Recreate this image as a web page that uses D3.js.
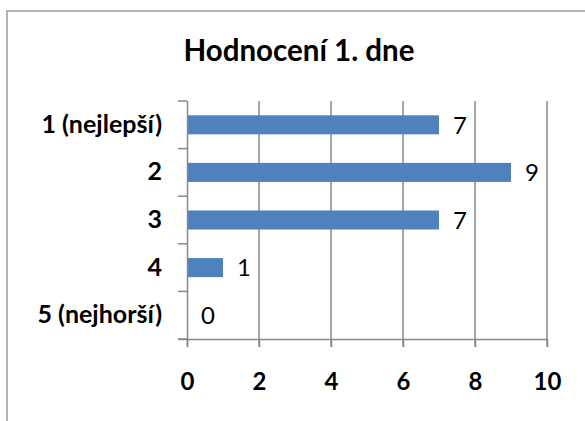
<!DOCTYPE html>
<html>
<head>
<meta charset="utf-8">
<script src="https://cdn.jsdelivr.net/npm/d3@7"></script>
<style>
  body { margin: 0; background: #fff; }
  svg { display: block; font-family: Lato, "Open Sans", sans-serif; }
</style>
</head>
<body>
<div id="chart"></div>
<script>
// data
const categories = ["1 (nejlepší)", "2", "3", "4", "5 (nejhorší)"];
const counts = [7, 9, 7, 1, 0];
const xTicks = [0, 2, 4, 6, 8, 10];
const title = "Hodnocení 1. dne";

const w = 585, h = 421;
const plotL = 187, plotR = 547, plotT = 101, plotB = 339;
const gray = "#898989";

const svg = d3.select("#chart").append("svg")
    .attr("width", w)
    .attr("height", h);

// chart frame (runs off the right and bottom edge)
svg.append("rect")
    .attr("x", 7).attr("y", 11)
    .attr("width", 600).attr("height", 430)
    .attr("fill", "none")
    .attr("stroke", "#8c8c8c")
    .attr("stroke-width", 1.3);

svg.append("text")
    .attr("x", 299).attr("y", 61)
    .attr("text-anchor", "middle")
    .attr("font-weight", "bold")
    .attr("font-size", "29.5px")
    .text(title);

const x = d3.scaleLinear().domain([0, 10]).range([plotL, plotR]);
const y = d3.scaleBand().domain(categories).range([plotT, plotB])
    .paddingInner(0.6).paddingOuter(0.3);

// vertical gridlines
svg.append("g").selectAll("line")
    .data(xTicks.slice(1))
    .enter().append("line")
    .attr("x1", d => x(d)).attr("x2", d => x(d))
    .attr("y1", plotT).attr("y2", plotB + 8)
    .attr("stroke", gray).attr("stroke-width", 1.5);

// bars
svg.append("g").selectAll("rect")
    .data(counts)
    .enter().append("rect")
    .attr("x", x(0))
    .attr("y", (d, i) => y(categories[i]))
    .attr("width", d => x(d) - x(0))
    .attr("height", y.bandwidth())
    .attr("fill", "#4f81bd");

// value labels
svg.append("g").selectAll("text")
    .data(counts)
    .enter().append("text")
    .attr("x", d => x(d) + 14)
    .attr("y", (d, i) => y(categories[i]) + y.bandwidth() / 2)
    .attr("dy", "0.37em")
    .attr("font-size", "24px")
    .attr("fill", "#000")
    .text(d => d);

// x axis
const xAxis = svg.append("g")
    .attr("transform", "translate(0," + plotB + ")")
    .call(d3.axisBottom(x).tickValues(xTicks).tickSize(8).tickPadding(26));
xAxis.select(".domain").attr("d", "M" + (plotL - 9) + ",0.5H" + plotR)
    .attr("stroke", gray).attr("stroke-width", 1.5);
xAxis.selectAll(".tick line").attr("stroke", gray).attr("stroke-width", 1.5);
xAxis.selectAll("text")
    .attr("font-family", "Lato, sans-serif")
    .attr("font-size", "24px")
    .attr("font-weight", "bold")
    .attr("fill", "#000");

// y axis: line, ticks on category boundaries, labels on centres
const yAxis = svg.append("g")
    .attr("transform", "translate(" + plotL + ",0)")
    .call(d3.axisLeft(y).tickSize(0).tickPadding(25));
yAxis.select(".domain").attr("d", "M0.5," + plotT + "V" + (plotB + 8))
    .attr("stroke", gray).attr("stroke-width", 1.5);
yAxis.selectAll("text")
    .attr("font-family", "Lato, sans-serif")
    .attr("font-size", "25px")
    .attr("font-weight", "bold")
    .attr("fill", "#000");

const bounds = d3.range(categories.length + 1).map(i => plotT + i * y.step());
yAxis.append("g").selectAll("line")
    .data(bounds)
    .enter().append("line")
    .attr("x1", -9).attr("x2", 0)
    .attr("y1", d => d).attr("y2", d => d)
    .attr("stroke", gray).attr("stroke-width", 1.5);
</script>
</body>
</html>
